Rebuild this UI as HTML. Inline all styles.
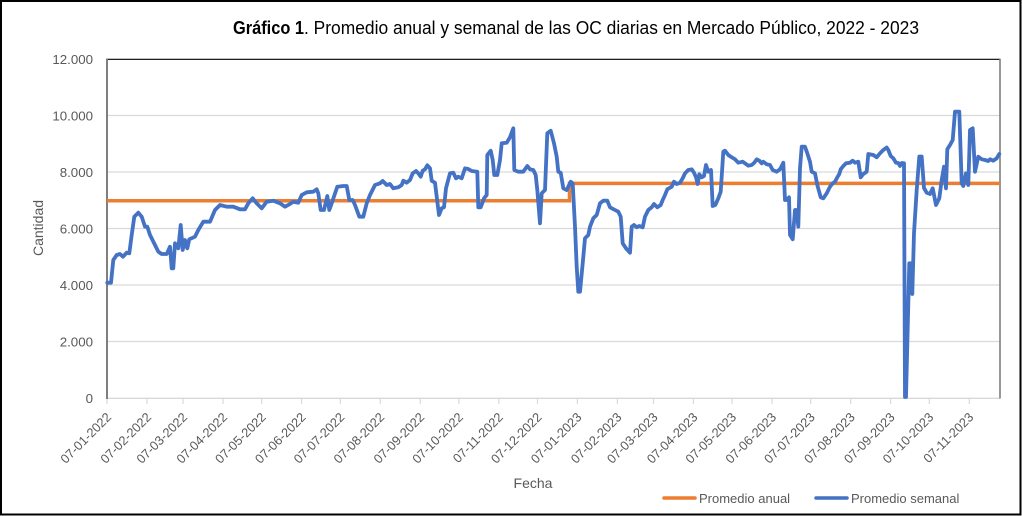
<!DOCTYPE html>
<html>
<head>
<meta charset="utf-8">
<style>
html,body{margin:0;padding:0;background:#fff;}
svg{display:block;}
text{font-family:"Liberation Sans",Arial,sans-serif;}
</style>
</head>
<body>
<svg width="1022" height="516" viewBox="0 0 1022 516" xmlns="http://www.w3.org/2000/svg">
<rect x="0" y="0" width="1022" height="516" fill="#fff"/>
<rect x="1" y="1" width="1019.5" height="513.5" fill="none" stroke="#000" stroke-width="2"/>

<!-- Title -->
<text x="233" y="34" font-size="18" font-weight="bold" fill="#000" textLength="71" lengthAdjust="spacingAndGlyphs">Gráfico 1</text>
<text x="304" y="34" font-size="18" fill="#000" textLength="615" lengthAdjust="spacingAndGlyphs">. Promedio anual y semanal de las OC diarias en Mercado Público, 2022 - 2023</text>

<!-- gridlines -->
<g stroke="#D9D9D9" stroke-width="1.3">
<line x1="107" y1="115.5" x2="1000" y2="115.5"/>
<line x1="107" y1="172" x2="1000" y2="172"/>
<line x1="107" y1="228.5" x2="1000" y2="228.5"/>
<line x1="107" y1="285" x2="1000" y2="285"/>
<line x1="107" y1="341.5" x2="1000" y2="341.5"/>
<line x1="107" y1="398.3" x2="1000" y2="398.3"/>
</g>
<!-- ticks -->
<g stroke="#D9D9D9" stroke-width="1.2">
<line x1="107" y1="398" x2="107" y2="404"/>
<line x1="147" y1="398" x2="147" y2="404"/>
<line x1="183" y1="398" x2="183" y2="404"/>
<line x1="223" y1="398" x2="223" y2="404"/>
<line x1="261.7" y1="398" x2="261.7" y2="404"/>
<line x1="301.6" y1="398" x2="301.6" y2="404"/>
<line x1="340.3" y1="398" x2="340.3" y2="404"/>
<line x1="380.2" y1="398" x2="380.2" y2="404"/>
<line x1="420.2" y1="398" x2="420.2" y2="404"/>
<line x1="458.9" y1="398" x2="458.9" y2="404"/>
<line x1="498.8" y1="398" x2="498.8" y2="404"/>
<line x1="537.5" y1="398" x2="537.5" y2="404"/>
<line x1="577.4" y1="398" x2="577.4" y2="404"/>
<line x1="617.4" y1="398" x2="617.4" y2="404"/>
<line x1="653.5" y1="398" x2="653.5" y2="404"/>
<line x1="693.4" y1="398" x2="693.4" y2="404"/>
<line x1="732.1" y1="398" x2="732.1" y2="404"/>
<line x1="772.1" y1="398" x2="772.1" y2="404"/>
<line x1="810.7" y1="398" x2="810.7" y2="404"/>
<line x1="850.7" y1="398" x2="850.7" y2="404"/>
<line x1="890.6" y1="398" x2="890.6" y2="404"/>
<line x1="929.3" y1="398" x2="929.3" y2="404"/>
<line x1="969.3" y1="398" x2="969.3" y2="404"/>
</g>
<!-- plot frame -->
<line x1="106" y1="59.3" x2="1000.5" y2="59.3" stroke="#000" stroke-width="1.2"/>
<line x1="1000" y1="59" x2="1000" y2="398.5" stroke="#7F7F7F" stroke-width="1.6"/>
<line x1="107" y1="59" x2="107" y2="399" stroke="#7F7F7F" stroke-width="2"/>

<!-- y labels -->
<g font-size="13.3" fill="#595959" text-anchor="end">
<text x="93" y="64">12.000</text>
<text x="93" y="120.5">10.000</text>
<text x="93" y="177">8.000</text>
<text x="93" y="233.5">6.000</text>
<text x="93" y="290">4.000</text>
<text x="93" y="346.5">2.000</text>
<text x="93" y="403">0</text>
</g>
<text transform="translate(43,228) rotate(-90)" font-size="14" fill="#595959" text-anchor="middle">Cantidad</text>

<!-- x labels -->
<g font-size="12.8" fill="#595959" text-anchor="end">
<text transform="translate(112,418) rotate(-45)">07-01-2022</text>
<text transform="translate(152,418) rotate(-45)">07-02-2022</text>
<text transform="translate(188,418) rotate(-45)">07-03-2022</text>
<text transform="translate(228,418) rotate(-45)">07-04-2022</text>
<text transform="translate(266.7,418) rotate(-45)">07-05-2022</text>
<text transform="translate(306.6,418) rotate(-45)">07-06-2022</text>
<text transform="translate(345.3,418) rotate(-45)">07-07-2022</text>
<text transform="translate(385.2,418) rotate(-45)">07-08-2022</text>
<text transform="translate(425.2,418) rotate(-45)">07-09-2022</text>
<text transform="translate(463.9,418) rotate(-45)">07-10-2022</text>
<text transform="translate(503.8,418) rotate(-45)">07-11-2022</text>
<text transform="translate(542.5,418) rotate(-45)">07-12-2022</text>
<text transform="translate(582.4,418) rotate(-45)">07-01-2023</text>
<text transform="translate(622.4,418) rotate(-45)">07-02-2023</text>
<text transform="translate(658.5,418) rotate(-45)">07-03-2023</text>
<text transform="translate(698.4,418) rotate(-45)">07-04-2023</text>
<text transform="translate(737.1,418) rotate(-45)">07-05-2023</text>
<text transform="translate(777.1,418) rotate(-45)">07-06-2023</text>
<text transform="translate(815.7,418) rotate(-45)">07-07-2023</text>
<text transform="translate(855.7,418) rotate(-45)">07-08-2023</text>
<text transform="translate(895.6,418) rotate(-45)">07-09-2023</text>
<text transform="translate(934.3,418) rotate(-45)">07-10-2023</text>
<text transform="translate(974.3,418) rotate(-45)">07-11-2023</text>
</g>
<text x="533" y="488" font-size="14" fill="#595959" text-anchor="middle">Fecha</text>

<!-- orange series -->
<polyline fill="none" stroke="#ED7D31" stroke-width="3.5" stroke-linejoin="miter"
points="107,200.8 569.5,200.8 569.5,183.4 1000,183.4"/>

<!-- blue series -->
<polyline fill="none" stroke="#4472C4" stroke-width="3.8" stroke-linejoin="round" stroke-linecap="round"
points="107.3,282.7 111,282.7 113.3,260 116.7,255 120,254 123,256.7 126.7,252.7 129.3,253.3 131.7,235 134.3,216.7 138.3,212.7 141.7,216.7 145,226.7 147.3,226.7 150,235 155,245 158.3,251.7 161.7,254 166.7,254 170,246.7 171.7,268.3 173.3,268.3 175,243.3 178.3,248.3 180.7,225 182.7,250 185,240 187.3,248.3 189.3,239.3 195,236.7 198.3,230 203.3,221.7 210,221.7 215,210 220,205 226.7,206.7 233.3,206.7 240,209.3 245,209.3 248.3,203.3 252.7,198.3 256.7,203.3 261.7,208.3 266.7,201.7 273.3,200.7 280,203.3 285,206.7 290,204 293.3,201.7 298.3,202.7 301.7,195 306.7,192.3 313.3,191.7 316.7,189.3 318.3,193.3 320.7,210 324,210 327.3,196 329.3,210 331.7,203.3 337.3,186.7 343.3,186 346.7,186 349.3,200 352.7,200 355,205 359.3,216.7 363.3,216.7 366.7,203.3 370,195 375,185 380,183.3 382.7,181 386.7,185 390,184 393.3,188.3 398.3,187.3 401.7,185 403.3,180.7 406.7,182.7 410,180 412.7,173.3 416,171 418.3,173.3 420.7,176.7 422.7,170.7 425,169.3 427.3,165.3 430,168.3 431.7,180.7 435,182.7 436.7,196.7 439,215 441.7,208.3 444,207.3 446,188.3 450,173.3 453.3,172.7 456,178.3 458.3,176.7 461.7,178.3 465,168.3 468.3,169 471.7,171 477.3,171.7 478.3,207.3 480.7,207.3 484,198.3 486.7,195 487.3,155 490.7,150.7 492.7,160 494.3,175 497.3,175 500,160 501.7,143.3 506.7,142.7 510,137.3 513.3,128.3 514.3,170 518.3,171.7 523.3,171.7 527.3,166 530,169.3 533.3,170 535.7,175 537.3,190 540,223.3 541.7,193.3 545,190 547.3,133.3 550.7,130.7 554,143.3 556.7,156.7 558.3,171.7 560.7,172.7 563.3,188.3 566.7,190 570.7,181.7 572.7,183.3 575,226.7 576.7,266.7 578.3,291.7 580,291.7 582.7,263.3 585,238.3 588.3,235 590,226.7 593.3,218.3 596.7,215 600,203.3 603.3,200.7 607.3,200.7 610,207.3 615,210 618.3,211.7 620.7,216.7 622.7,243.3 626,248.3 630,252.7 631.7,226.7 634,225 636.7,227.3 639.3,226 642.7,227.3 645,216.7 648.3,210 651.7,207.3 654,204 657.3,207.3 660.7,205 662.7,200 665,195 667.3,189.3 671.7,186.7 674,181.7 676.7,184 680,182.7 682.7,178.3 685,173.3 688.3,170 691.7,169.3 694,172.7 696,177.3 697.7,184 699.3,174.3 701.7,177.3 704,176 706,165 708.3,171.7 711,170 712.7,206 715.3,205 718.3,198.3 720.7,191.7 723.3,151.7 725,150.7 728.3,155 731.7,157.3 735,159.3 738.3,162.7 742.7,161.7 745,163.3 748.3,165.7 751.7,165 754.3,162.7 756.7,159.3 759.3,160.7 761.7,163.3 763.3,161.7 766.7,164.3 770,165 772.7,170 776.7,171.7 780,169.3 783.3,162.7 785,200 786.7,200 789,197.3 790,235 792.7,239.3 795,210 796.7,210 798.3,226.7 800,168.3 801.7,146.7 805,146.7 807.3,153.3 810,161.7 811.7,171.7 815,173.3 817.3,185 820.7,197.3 823.3,198.3 826.7,193.3 830,186.7 832.7,183.3 835,181.7 837.3,177.3 839.3,174 840.7,169.3 843.3,166 846,163.3 850,162.7 852.7,160.7 855,162.7 858.3,161.7 860.7,177.3 863.3,174 866.7,171.7 868.3,154 873.3,155 876.7,157.3 880,153.3 883.3,150 886.7,147.5 888.3,150 890.7,156 893.3,158.3 896,162.7 898.3,163 900,166 901.7,163 904,163.3 905,397 906,397 909.3,263.3 911.7,263.3 912.3,294 914,233.3 916.7,190 919.3,156.5 921.7,156.5 924,188 926.7,192.7 930,194 932.7,188.3 936,205 939.3,198.3 941.7,180 944,166.7 946,188.3 947.3,149.3 950,145 952.7,140 955,111.7 959.3,111.7 961.7,183.3 963.3,186 966,173.3 968.3,185 970,130 972.7,128.3 975,171.7 978.3,156.7 981.7,159.3 985,160 988.3,161 990,159.3 993.3,160.7 996.7,158.3 999.3,154"/>

<!-- legend -->
<line x1="664" y1="498" x2="695" y2="498" stroke="#ED7D31" stroke-width="3.5" stroke-linecap="round"/>
<text x="699" y="503" font-size="13" fill="#595959">Promedio anual</text>
<line x1="816" y1="498" x2="847" y2="498" stroke="#4472C4" stroke-width="3.5" stroke-linecap="round"/>
<text x="851" y="503" font-size="13" fill="#595959">Promedio semanal</text>
</svg>
</body>
</html>
